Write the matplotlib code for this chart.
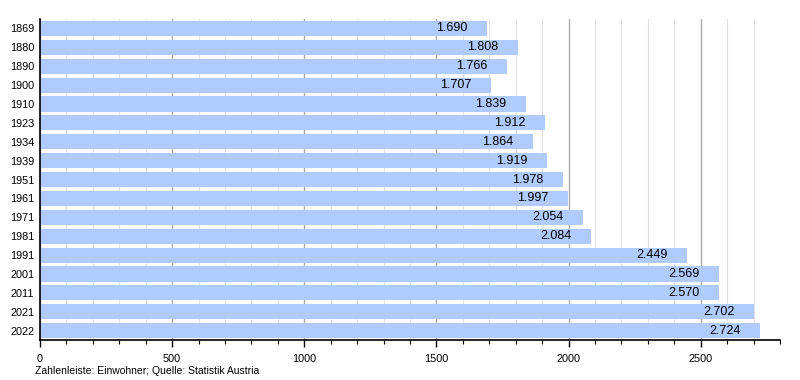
import matplotlib.pyplot as plt
from matplotlib.ticker import MultipleLocator

plt.rcParams['font.family'] = ['Liberation Sans', 'DejaVu Sans']

# --- Daten ---
jahre = ['1869', '1880', '1890', '1900', '1910', '1923', '1934', '1939', '1951',
         '1961', '1971', '1981', '1991', '2001', '2011', '2021', '2022']
einwohner = [1690, 1808, 1766, 1707, 1839, 1912, 1864, 1919, 1978,
             1997, 2054, 2084, 2449, 2569, 2570, 2702, 2724]

fig = plt.figure(figsize=(8, 3.8), dpi=100)
ax = fig.add_axes([0.05, 0.105, 0.925, 0.845])

y = list(range(len(jahre)))
ax.barh(y, einwohner, height=0.8, color='#b0cbff', zorder=2)

for yi, v in zip(y, einwohner):
    txt = f'{v / 1000:.3f}'
    ax.annotate(txt, (v, yi), xytext=(-14, 0), textcoords='offset points',
                ha='right', va='center', fontsize=9, zorder=3)

ax.set_ylim(len(jahre) - 0.5, -0.5)
ax.set_yticks(y)
ax.set_yticklabels(jahre, fontsize=7.8)
ax.tick_params(axis='y', length=0, pad=4)

ax.set_xlim(0, 2800)
ax.xaxis.set_major_locator(MultipleLocator(500))
ax.xaxis.set_minor_locator(MultipleLocator(100))
ax.tick_params(axis='x', which='major', length=5, labelsize=7.8, width=1, pad=5)
ax.tick_params(axis='x', which='minor', length=3, width=0.8)
ax.grid(axis='x', which='major', color='#aaaaaa', linewidth=1, zorder=0)
ax.grid(axis='x', which='minor', color='#e0e0e0', linewidth=0.8, zorder=0)

for s in ['top', 'right']:
    ax.spines[s].set_visible(False)
ax.spines['left'].set_linewidth(1.2)
ax.spines['bottom'].set_linewidth(1.2)

fig.text(0.044, 0.015, 'Zahlenleiste: Einwohner; Quelle: Statistik Austria', fontsize=7.5)

plt.savefig('out.png', dpi=100)
